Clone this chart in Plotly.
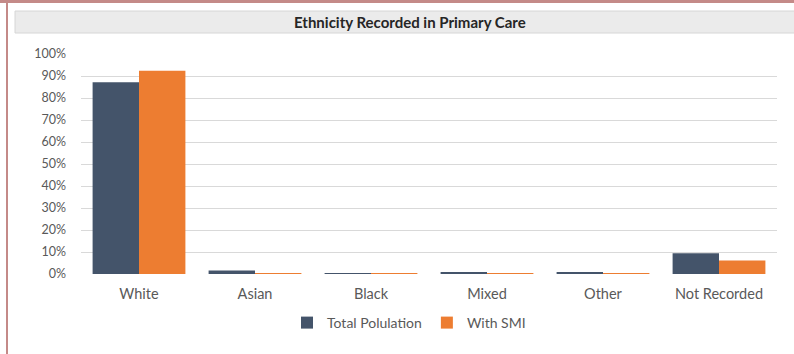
import plotly.graph_objects as go

# Ethnic group shares (%) for the whole practice list and for patients with SMI
categories = ["White", "Asian", "Black", "Mixed", "Other", "Not Recorded"]
total_population = [87.2, 1.6, 0.2, 0.5, 0.6, 9.4]
with_smi = [92.4, 0.4, 0.2, 0.3, 0.3, 6.1]
y_ticks = list(range(0, 101, 10))
y_tick_labels = [f"{v}%" for v in y_ticks]

W, H = 794, 354
ML, MR, MT, MB = 81, 17, 54, 80
PW, PH = W - ML - MR, H - MT - MB


def px_x(x):
    return (x - ML) / PW


def px_y(y):
    return 1 - (y - MT) / PH


FONT = "Lato, 'Open Sans', sans-serif"
GREY_TXT = "#595959"

fig = go.Figure()
fig.add_trace(go.Bar(name="Total Polulation", x=categories, y=total_population,
                     marker=dict(color="#44546A", line=dict(width=0))))
fig.add_trace(go.Bar(name="With SMI", x=categories, y=with_smi,
                     marker=dict(color="#ED7D31", line=dict(width=0))))

shapes = [
    # frame accents along the top and left edges
    dict(type="rect", xref="paper", yref="paper", x0=px_x(0), x1=px_x(W),
         y0=px_y(0), y1=px_y(3), fillcolor="#C48A88", line=dict(width=0), layer="below"),
    dict(type="rect", xref="paper", yref="paper", x0=px_x(6), x1=px_x(8),
         y0=px_y(0), y1=px_y(H), fillcolor="#C48A88", line=dict(width=0), layer="below"),
    # title banner
    dict(type="rect", xref="paper", yref="paper", x0=px_x(15), x1=px_x(W + 5),
         y0=px_y(11), y1=px_y(33), fillcolor="#EBEBEB",
         line=dict(color="#D6D6D6", width=1), layer="below"),
]

fig.update_layout(
    width=W, height=H,
    margin=dict(l=ML, r=MR, t=MT, b=MB),
    paper_bgcolor="white", plot_bgcolor="white",
    barmode="group", bargap=0.2, bargroupgap=0,
    font=dict(family=FONT, color=GREY_TXT, size=12),
    shapes=shapes,
    annotations=[dict(text="<b>Ethnicity Recorded in Primary Care</b>",
                      xref="paper", yref="paper", x=px_x(410), y=px_y(22),
                      xanchor="center", yanchor="middle", showarrow=False,
                      font=dict(family=FONT, size=15, color="#262626"))],
    xaxis=dict(showgrid=False, showline=False, ticks="",
               tickfont=dict(size=14.5, color=GREY_TXT), ticklabelstandoff=9),
    yaxis=dict(range=[0, 100], tickvals=y_ticks, ticktext=y_tick_labels,
               showgrid=True, gridcolor="#D9D9D9", gridwidth=1,
               zeroline=False, showline=False, ticks="",
               tickfont=dict(size=12.5, color=GREY_TXT), ticklabelstandoff=14),
    legend=dict(orientation="h", x=px_x(409), y=px_y(323),
                xanchor="center", yanchor="middle",
                font=dict(size=14, color=GREY_TXT), itemwidth=30,
                bgcolor="rgba(0,0,0,0)"),
    showlegend=True,
)

fig.write_html("out.html")
